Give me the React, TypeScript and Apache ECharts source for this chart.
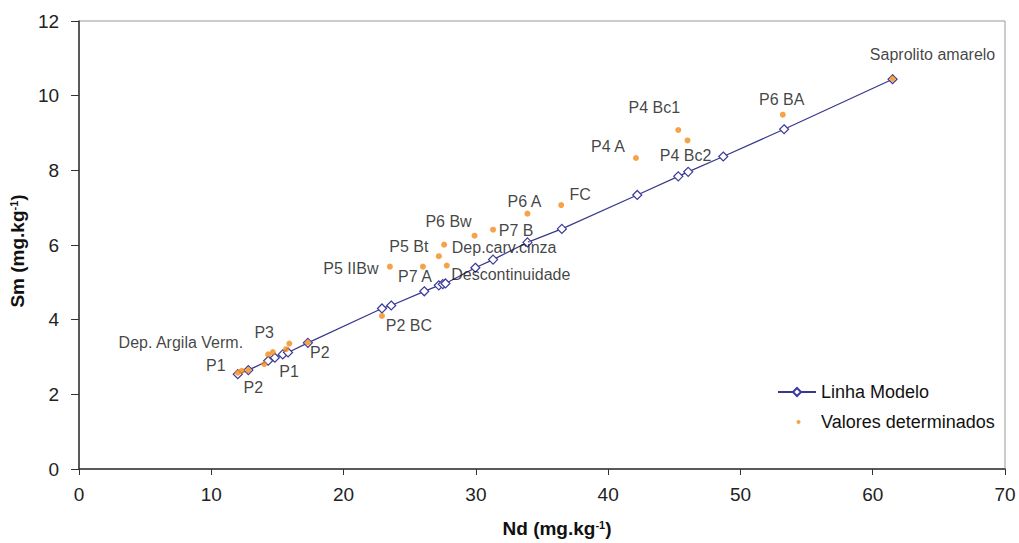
import React, { useEffect, useRef } from "react";
import * as echarts from "echarts";

// Linha Modelo (Nd, Sm)
const modelNd = [12.0, 12.8, 14.3, 14.8, 15.4, 15.8, 17.3, 22.9, 23.6, 26.1, 27.2, 27.5, 27.7, 29.96, 31.3, 33.9, 36.5, 42.2, 45.3, 46.05, 48.7, 53.3, 61.5];
const modelSm = [2.54, 2.65, 2.9, 2.98, 3.07, 3.12, 3.38, 4.3, 4.38, 4.76, 4.92, 4.95, 4.97, 5.39, 5.61, 6.07, 6.43, 7.34, 7.84, 7.96, 8.37, 9.1, 10.44];

// Valores determinados (Nd, Sm, label)
const detNd = [61.5, 53.2, 45.3, 46.0, 42.1, 36.45, 33.9, 31.3, 29.9, 27.6, 27.2, 27.8, 26.0, 23.5, 22.9, 17.3, 15.9, 15.65, 14.65, 14.3, 14.0, 12.8, 12.3, 12.0];
const detSm = [10.45, 9.49, 9.08, 8.8, 8.33, 7.07, 6.84, 6.41, 6.25, 6.01, 5.7, 5.45, 5.42, 5.42, 4.1, 3.39, 3.36, 3.21, 3.13, 3.07, 2.81, 2.65, 2.63, 2.58];
const detLabels = [
  "Saprolito amarelo", "P6 BA", "P4 Bc1", "P4 Bc2", "P4 A", "FC", "P6 A", "P7 B", "P6 Bw",
  "Dep.carv.cinza", "P5 Bt", "Descontinuidade", "P7 A", "P5 IIBw", "P2 BC", "P2", "",
  "P1", "Dep. Argila Verm.", "P3", "", "P2", "", "P1",
];

// label offsets in pixels (style)
const labelOffsets: number[][] = [
  [40, -24], [-1, -15], [-24, -23], [-2, 15], [-28, -12], [19, -11], [-3, -12], [23, 1], [-26, -14],
  [60, 3], [-30, -10], [64, 9], [-8, 10], [-39, 2], [27, 10], [12, 10], [0, 0],
  [3, 22], [-92, -10], [-4, -22], [0, 0], [5, 17], [0, 0], [-22, -7],
];

const xTicksMin = 0, xTicksMax = 70, xInterval = 10;
const yTicksMin = 0, yTicksMax = 12, yInterval = 2;

export default function App() {
  const ref = useRef<HTMLDivElement>(null);
  useEffect(() => {
    if (!ref.current) return;
    const chart = echarts.init(ref.current, undefined, { renderer: "svg" });
    const font = "'Liberation Sans', Arial, sans-serif";
    const modelData = modelNd.map((x, i) => [x, modelSm[i]]);
    const detData = detNd.map((x, i) => ({
      value: [x, detSm[i]],
      name: detLabels[i],
      label: { show: detLabels[i] !== "" },
    }));
    const nameRich = {
      a: { fontSize: 19, fontWeight: "bold", color: "#111", fontFamily: font },
      s: { fontSize: 11, fontWeight: "bold", color: "#111", verticalAlign: "top", padding: [0, 0, 8, 0], fontFamily: font },
    };
    chart.setOption({
      animation: false,
      backgroundColor: "#fff",
      textStyle: { fontFamily: font },
      grid: {
        left: 76, right: 14, top: 21, bottom: 73,
        show: true, borderColor: "#999", borderWidth: 1,
      },
      legend: {
        orient: "vertical",
        left: 772, top: 378,
        itemGap: 12,
        itemWidth: 38, itemHeight: 10,
        textStyle: { fontSize: 18, color: "#111", fontFamily: font },
        data: [
          { name: "Linha Modelo" },
          { name: "Valores determinados", icon: "path://M5,3 a2,2 0 1,0 0.01,0 Z M0,0 L0.01,0 M0,10 L0.01,10" },
        ],
      },
      xAxis: {
        type: "value",
        min: xTicksMin, max: xTicksMax, interval: xInterval,
        name: "{a|Nd (mg.kg}{s|-1}{a|)}",
        nameLocation: "middle",
        nameGap: 50,
        nameTextStyle: { rich: nameRich, padding: [0, 0, 0, 30] },
        axisLine: { show: true, onZero: false, lineStyle: { color: "#333", width: 1.5 } },
        axisTick: { show: true, inside: false, length: 6, lineStyle: { color: "#333" } },
        axisLabel: { fontSize: 19, color: "#222", margin: 16, fontFamily: font },
        splitLine: { show: false },
      },
      yAxis: {
        type: "value",
        min: yTicksMin, max: yTicksMax, interval: yInterval,
        name: "{a|Sm (mg.kg}{s|-1}{a|)}",
        nameLocation: "middle",
        nameGap: 42,
        nameRotate: 90,
        nameTextStyle: { rich: nameRich, padding: [0, 12, 0, 0] },
        axisLine: { show: true, onZero: false, lineStyle: { color: "#333", width: 1.5 } },
        axisTick: { show: true, inside: false, length: 8, lineStyle: { color: "#333" } },
        axisLabel: { fontSize: 19, color: "#222", margin: 20, fontFamily: font },
        splitLine: { show: false },
      },
      series: [
        {
          name: "Linha Modelo",
          type: "line",
          data: modelData,
          symbol: "diamond",
          symbolSize: 9,
          showAllSymbol: true,
          lineStyle: { color: "#3A3A8C", width: 1.3 },
          itemStyle: { color: "#fff", borderColor: "#3A3A9C", borderWidth: 1.2 },
          z: 2,
        },
        {
          name: "Valores determinados",
          type: "scatter",
          data: detData,
          symbol: "circle",
          symbolSize: 6,
          itemStyle: { color: "#F28C1A" },
          label: {
            show: true,
            position: "inside",
            formatter: "{b}",
            fontSize: 16,
            color: "#111",
            fontFamily: font,
            align: "center",
            verticalAlign: "middle",
          },
          labelLayout: (params: any) => {
            const o = labelOffsets[params.dataIndex] || [0, 0];
            return { dx: o[0], dy: o[1], hideOverlap: false };
          },
          z: 3,
        },
      ],
    });
    return () => chart.dispose();
  }, []);
  return <div ref={ref} style={{ width: 1019, height: 543, position: "absolute", left: 0, top: 0 }} />;
}
